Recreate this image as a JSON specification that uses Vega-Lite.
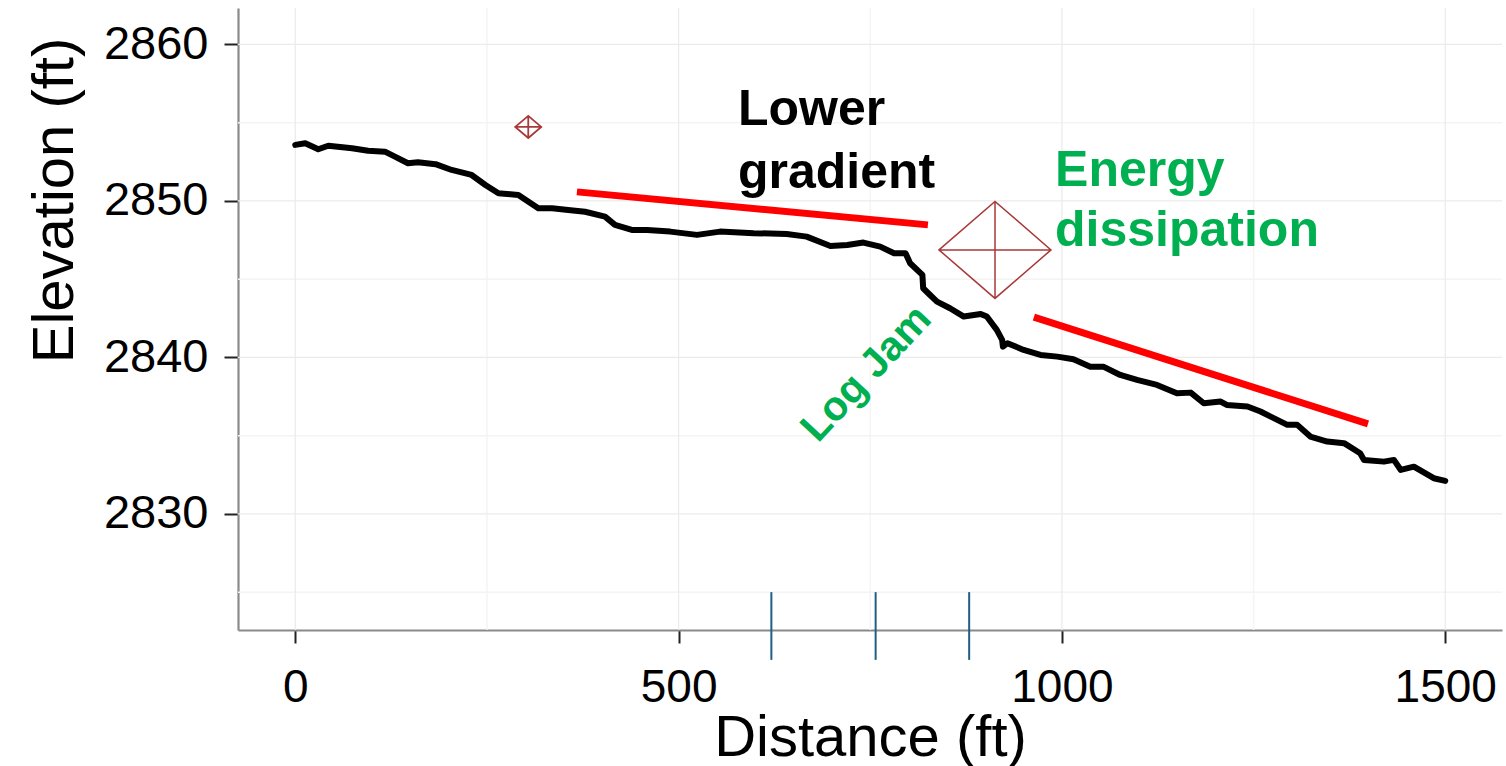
{
  "$schema": "https://vega.github.io/schema/vega-lite/v6.json",
  "width": 1264,
  "height": 622,
  "autosize": {"type": "none"},
  "padding": {"left": 238, "top": 8, "right": 4, "bottom": 136},
  "background": "white",
  "view": {"stroke": null},
  "config": {"font": "Liberation Sans", "axis": {"ticks": false, "grid": false, "tickColor": "#222222"}},
  "datasets": {
    "profile": [
      {"x": 0, "y": 2853.58}, {"x": 13, "y": 2853.69}, {"x": 30, "y": 2853.3}, {"x": 43, "y": 2853.53},
      {"x": 74, "y": 2853.37}, {"x": 95, "y": 2853.21}, {"x": 117, "y": 2853.15}, {"x": 130, "y": 2852.83},
      {"x": 147, "y": 2852.41}, {"x": 160, "y": 2852.47}, {"x": 183, "y": 2852.35}, {"x": 204, "y": 2851.98},
      {"x": 230, "y": 2851.66}, {"x": 248, "y": 2851.02}, {"x": 265, "y": 2850.49}, {"x": 291, "y": 2850.38},
      {"x": 317, "y": 2849.53}, {"x": 335, "y": 2849.53}, {"x": 356, "y": 2849.42}, {"x": 378, "y": 2849.31},
      {"x": 404, "y": 2849.0}, {"x": 417, "y": 2848.47}, {"x": 439, "y": 2848.15}, {"x": 459, "y": 2848.15},
      {"x": 489, "y": 2848.04}, {"x": 524, "y": 2847.83}, {"x": 554, "y": 2848.04}, {"x": 598, "y": 2847.94},
      {"x": 641, "y": 2847.89}, {"x": 667, "y": 2847.72}, {"x": 698, "y": 2847.12}, {"x": 720, "y": 2847.19},
      {"x": 741, "y": 2847.34}, {"x": 763, "y": 2847.08}, {"x": 781, "y": 2846.66}, {"x": 796, "y": 2846.66},
      {"x": 802, "y": 2846.02}, {"x": 818, "y": 2845.27}, {"x": 819, "y": 2844.42}, {"x": 828, "y": 2843.99},
      {"x": 837, "y": 2843.57}, {"x": 854, "y": 2843.14}, {"x": 872, "y": 2842.61}, {"x": 894, "y": 2842.78},
      {"x": 902, "y": 2842.61}, {"x": 915, "y": 2841.76}, {"x": 922, "y": 2841.12}, {"x": 923, "y": 2840.69},
      {"x": 929, "y": 2840.91}, {"x": 950, "y": 2840.48}, {"x": 972, "y": 2840.16}, {"x": 994, "y": 2840.05},
      {"x": 1015, "y": 2839.88}, {"x": 1037, "y": 2839.41}, {"x": 1054, "y": 2839.41}, {"x": 1076, "y": 2838.88},
      {"x": 1098, "y": 2838.56}, {"x": 1124, "y": 2838.24}, {"x": 1150, "y": 2837.71}, {"x": 1168, "y": 2837.75},
      {"x": 1185, "y": 2837.07}, {"x": 1207, "y": 2837.18}, {"x": 1215, "y": 2836.96}, {"x": 1242, "y": 2836.86},
      {"x": 1259, "y": 2836.54}, {"x": 1294, "y": 2835.69}, {"x": 1307, "y": 2835.69}, {"x": 1324, "y": 2834.94},
      {"x": 1346, "y": 2834.62}, {"x": 1368, "y": 2834.52}, {"x": 1389, "y": 2833.88}, {"x": 1394, "y": 2833.45},
      {"x": 1420, "y": 2833.34}, {"x": 1433, "y": 2833.45}, {"x": 1442, "y": 2832.81}, {"x": 1459, "y": 2833.02},
      {"x": 1485, "y": 2832.28}, {"x": 1500, "y": 2832.11}
    ],
    "minorx": [{"x": 250}, {"x": 750}, {"x": 1250}],
    "minory": [{"y": 2825}, {"y": 2835}, {"y": 2845}, {"y": 2855}],
    "majorx": [{"x": 0}, {"x": 500}, {"x": 1000}, {"x": 1500}],
    "majory": [{"y": 2830}, {"y": 2840}, {"y": 2850}, {"y": 2860}],
    "trends": [
      {"x": 367.4, "y": 2850.58, "x2": 825.2, "y2": 2848.47},
      {"x": 963.4, "y": 2842.57, "x2": 1399.2, "y2": 2835.75}
    ],
    "bigmarker": [{"x": 912.7, "y": 2846.87}],
    "smallmarker": [{"x": 303.9, "y": 2854.73}],
    "rug": [{"x": 621}, {"x": 757}, {"x": 879}],
    "lower": [{"x": 577.4, "y": 2854.86, "label": ["Lower", "gradient"]}],
    "energy": [{"x": 991, "y": 2850.96, "label": ["Energy", "dissipation"]}],
    "logjam": [{"x": 745.4, "y": 2838.94, "label": "Log Jam"}]
  },
  "layer": [
    {
      "data": {"name": "minorx"},
      "mark": {"type": "rule", "color": "#f4f4f4", "strokeWidth": 1.5},
      "encoding": {
        "x": {"field": "x", "type": "quantitative", "title": "Distance (ft)",
          "scale": {"domain": [-74.7, 1574], "nice": false, "zero": false},
          "axis": {
            "values": [0, 500, 1000, 1500], "format": "d", "grid": false, "ticks": true,
            "domainColor": "#8a8a8a", "domainWidth": 2.2,
            "tickColor": "#222222", "tickWidth": 2, "tickSize": 13,
            "labelFont": "Liberation Sans", "labelFontSize": 46, "labelColor": "#000000", "labelPadding": 22,
            "labelFlush": false, "labelOverlap": false,
            "title": "Distance (ft)", "titleFont": "Liberation Sans", "titleFontSize": 58, "titleFontWeight": "normal",
            "titleColor": "#000000", "titleBaseline": "alphabetic", "titleAlign": "center", "titleX": 632, "titleY": 125
          }
        },
        "y": {"datum": 2862.33, "type": "quantitative", "title": "Elevation (ft)",
          "scale": {"domain": [2822.58, 2862.33], "nice": false, "zero": false},
          "axis": {
            "values": [2830, 2840, 2850, 2860], "format": "d", "grid": false, "ticks": true,
            "domainColor": "#8a8a8a", "domainWidth": 2.2,
            "tickColor": "#222222", "tickWidth": 2, "tickSize": 14,
            "labelFont": "Liberation Sans", "labelFontSize": 47, "labelColor": "#000000", "labelPadding": 16,
            "labelFlush": false, "labelOverlap": false,
            "title": "Elevation (ft)", "titleFont": "Liberation Sans", "titleFontSize": 58, "titleFontWeight": "normal",
            "titleColor": "#000000", "titleAngle": -90, "titleBaseline": "alphabetic", "titleAlign": "center",
            "titleX": -166, "titleY": 192
          }
        },
        "y2": {"datum": 2822.58}
      }
    },
    {
      "data": {"name": "minory"},
      "mark": {"type": "rule", "color": "#f4f4f4", "strokeWidth": 1.5},
      "encoding": {
        "y": {"field": "y", "type": "quantitative", "title": "Elevation (ft)"},
        "x": {"datum": -74.7, "type": "quantitative", "title": "Distance (ft)"},
        "x2": {"datum": 1574}
      }
    },
    {
      "data": {"name": "majorx"},
      "mark": {"type": "rule", "color": "#ebebeb", "strokeWidth": 1.2},
      "encoding": {
        "x": {"field": "x", "type": "quantitative", "title": "Distance (ft)"},
        "y": {"datum": 2862.33, "type": "quantitative", "title": "Elevation (ft)"},
        "y2": {"datum": 2822.58}
      }
    },
    {
      "data": {"name": "majory"},
      "mark": {"type": "rule", "color": "#ebebeb", "strokeWidth": 1.2},
      "encoding": {
        "y": {"field": "y", "type": "quantitative", "title": "Elevation (ft)"},
        "x": {"datum": -74.7, "type": "quantitative", "title": "Distance (ft)"},
        "x2": {"datum": 1574}
      }
    },
    {
      "data": {"name": "profile"},
      "mark": {"type": "line", "color": "#000000", "strokeWidth": 6, "strokeJoin": "round", "strokeCap": "round"},
      "encoding": {
        "x": {"field": "x", "type": "quantitative", "title": "Distance (ft)"},
        "y": {"field": "y", "type": "quantitative", "title": "Elevation (ft)"}
      }
    },
    {
      "data": {"name": "trends"},
      "mark": {"type": "rule", "color": "#ff0000", "strokeWidth": 7},
      "encoding": {
        "x": {"field": "x", "type": "quantitative", "title": "Distance (ft)"},
        "y": {"field": "y", "type": "quantitative", "title": "Elevation (ft)"},
        "x2": {"field": "x2"},
        "y2": {"field": "y2"}
      }
    },
    {
      "data": {"name": "bigmarker"},
      "mark": {"type": "point", "shape": "M-1,0L0,-0.866L1,0L0,0.866ZM-1,0L1,0M0,-0.866L0,0.866", "size": 12544, "filled": false, "stroke": "#a83a3a", "strokeWidth": 1.5, "opacity": 1},
      "encoding": {
        "x": {"field": "x", "type": "quantitative", "title": "Distance (ft)"},
        "y": {"field": "y", "type": "quantitative", "title": "Elevation (ft)"}
      }
    },
    {
      "data": {"name": "smallmarker"},
      "mark": {"type": "point", "shape": "M-1,0L0,-0.85L1,0L0,0.85ZM-1,0L1,0M0,-0.85L0,0.85", "size": 676, "filled": false, "stroke": "#a83a3a", "strokeWidth": 1.8, "opacity": 1},
      "encoding": {
        "x": {"field": "x", "type": "quantitative", "title": "Distance (ft)"},
        "y": {"field": "y", "type": "quantitative", "title": "Elevation (ft)"}
      }
    },
    {
      "data": {"name": "rug"},
      "mark": {"type": "rule", "color": "#1f5f85", "strokeWidth": 2},
      "encoding": {
        "x": {"field": "x", "type": "quantitative", "title": "Distance (ft)"},
        "y": {"datum": 2825, "type": "quantitative", "title": "Elevation (ft)"},
        "y2": {"datum": 2820.67}
      }
    },
    {
      "data": {"name": "lower"},
      "mark": {"type": "text", "color": "#000000", "font": "Liberation Sans", "fontWeight": "bold", "fontSize": 50, "align": "left", "baseline": "alphabetic", "lineHeight": 63},
      "encoding": {
        "x": {"field": "x", "type": "quantitative", "title": "Distance (ft)"},
        "y": {"field": "y", "type": "quantitative", "title": "Elevation (ft)"},
        "text": {"field": "label"}
      }
    },
    {
      "data": {"name": "energy"},
      "mark": {"type": "text", "color": "#00b050", "font": "Liberation Sans", "fontWeight": "bold", "fontSize": 50, "align": "left", "baseline": "alphabetic", "lineHeight": 60},
      "encoding": {
        "x": {"field": "x", "type": "quantitative", "title": "Distance (ft)"},
        "y": {"field": "y", "type": "quantitative", "title": "Elevation (ft)"},
        "text": {"field": "label"}
      }
    },
    {
      "data": {"name": "logjam"},
      "mark": {"type": "text", "color": "#00b050", "font": "Liberation Sans", "fontWeight": "bold", "fontSize": 41, "align": "center", "baseline": "middle", "angle": -47},
      "encoding": {
        "x": {"field": "x", "type": "quantitative", "title": "Distance (ft)"},
        "y": {"field": "y", "type": "quantitative", "title": "Elevation (ft)"},
        "text": {"field": "label"}
      }
    }
  ]
}
